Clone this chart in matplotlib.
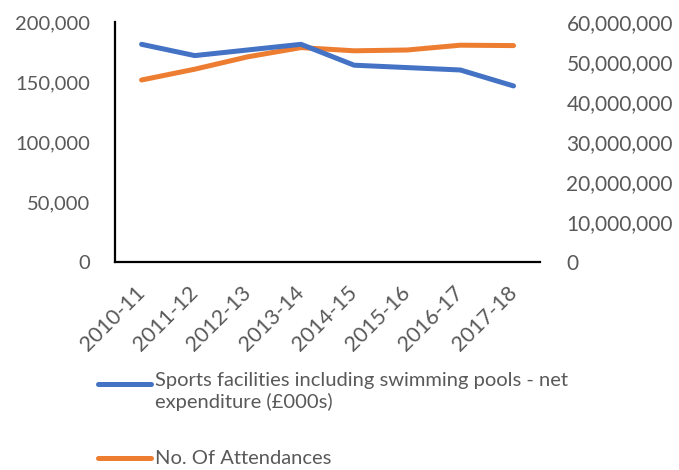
import matplotlib
matplotlib.use("Agg")
import matplotlib.pyplot as plt
from matplotlib.lines import Line2D
from matplotlib.ticker import FuncFormatter
from matplotlib.transforms import ScaledTranslation

# Sports facilities spend vs attendances, 2010-11 to 2017-18
years = ['2010-11', '2011-12', '2012-13', '2013-14', '2014-15', '2015-16', '2016-17', '2017-18']
expenditure = [181400, 172000, 176700, 181400, 164000, 162000, 160000, 146700]  # £000s
attendances = [45500000, 48200000, 51300000, 53600000, 52800000, 53000000, 54200000, 54100000]

blue = '#4472C4'
orange = '#ED7D31'
grey = '#595959'

plt.rcParams['font.family'] = ['Lato', 'DejaVu Sans']
plt.rcParams['font.size'] = 14.5

fig = plt.figure(figsize=(6.79, 4.70), dpi=100)
ax = fig.add_axes([0.1694, 0.4426, 0.626, 0.5106])
ax2 = ax.twinx()

x = range(len(years))
l1, = ax.plot(x, expenditure, color=blue, lw=3.6, solid_capstyle='round')
l2, = ax2.plot(x, attendances, color=orange, lw=3.6, solid_capstyle='round')
ax.set_zorder(ax2.get_zorder() + 1)
ax.patch.set_visible(False)

ax.set_xlim(-0.5, len(years) - 0.5)
ax.set_ylim(0, 200000)
ax2.set_ylim(0, 60000000)
ax.set_yticks(range(0, 200001, 50000))
ax2.set_yticks(range(0, 60000001, 10000000))
comma = FuncFormatter(lambda v, p: f'{int(v):,}')
ax.yaxis.set_major_formatter(comma)
ax2.yaxis.set_major_formatter(comma)

ax.set_xticks(list(x))
ax.set_xticklabels(years, rotation=45, ha='right', va='center', rotation_mode='anchor')
# nudge the slanted labels a little to the left
nudge = ScaledTranslation(-5 / 72, 1 / 72, fig.dpi_scale_trans)
for lab in ax.get_xticklabels():
    lab.set_transform(lab.get_transform() + nudge)

for a in (ax, ax2):
    for s in ('top', 'right', 'left', 'bottom'):
        a.spines[s].set_visible(False)
    a.tick_params(length=0, colors=grey, labelsize=14.5)
ax.spines['left'].set_visible(True)
ax.spines['bottom'].set_visible(True)
ax.spines['left'].set_linewidth(1.6)
ax.spines['bottom'].set_linewidth(1.6)
ax.tick_params(axis='y', pad=18)
ax.tick_params(axis='x', pad=20, labelsize=15.5)
ax2.tick_params(axis='y', pad=19, labelsize=15)

# legend below the plot
fig.add_artist(Line2D([0.145, 0.222], [1 - 384 / 470] * 2, color=l1.get_color(), lw=3.6,
                      solid_capstyle='round'))
fig.text(0.228, 1 - 372 / 470, 'Sports facilities including swimming pools - net\nexpenditure (£000s)',
         color=grey, fontsize=14.5, va='top', ha='left', linespacing=1.25)
fig.add_artist(Line2D([0.145, 0.222], [1 - 458 / 470] * 2, color=l2.get_color(), lw=3.6,
                      solid_capstyle='round'))
fig.text(0.228, 1 - 458 / 470, 'No. Of Attendances', color=grey, fontsize=14.5, va='center', ha='left')

fig.savefig('out.png', dpi=100)
